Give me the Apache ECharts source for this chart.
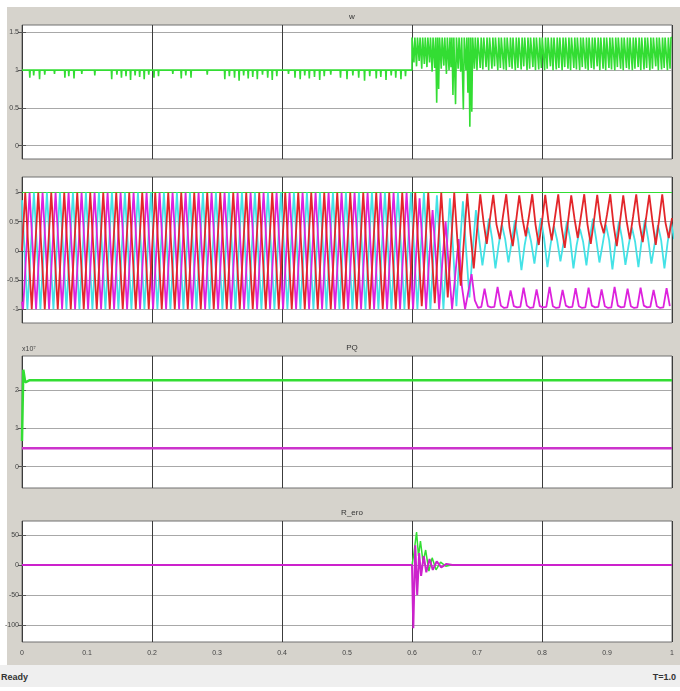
<!DOCTYPE html>
<html><head><meta charset="utf-8">
<script src="https://cdn.jsdelivr.net/npm/echarts@6/dist/echarts.min.js"></script>
<style>
html,body{margin:0;padding:0;background:#fff;}
#wrap{position:relative;width:680px;height:691px;overflow:hidden;background:#fff;}
#panel{position:absolute;left:7px;top:7px;width:673px;height:658px;background:#d6d3cc;}
#chart{position:absolute;left:0;top:0;width:680px;height:691px;}
#status{position:absolute;left:0;top:665px;width:680px;height:22px;background:#efefef;font:bold 9px "Liberation Sans",sans-serif;color:#333;}
</style></head>
<body><div id="wrap"><div id="panel"></div><div id="chart"></div>
<div id="status"><span style="position:absolute;left:1px;top:7px">Ready</span><span style="position:absolute;right:4px;top:7px">T=1.0</span></div>
</div>
<script>
// ---------- data ----------
const xMin = 0, xMax = 1;
const titles = ['w', '', 'PQ', 'R_ero'];
const wTicks = [0, 0.5, 1, 1.5];
const vTicks = [-1, -0.5, 0, 0.5, 1];
const pqTicks = [0, 1, 2];
const rTicks = [-100, -50, 0, 50];

// panel 1 : w
const wFaultTime = 0.6;
const wPreLevel = 1.0;
const wPostLevel = 1.43;
const preSpikeTimes = [0.012,0.018,0.027,0.035,0.05,0.066,0.072,0.08,0.092,0.112,
  0.138,0.146,0.153,0.16,0.167,0.174,0.181,0.188,0.195,0.203,
  0.21,0.232,0.245,0.252,0.26,0.285,0.312,0.319,0.327,0.334,
  0.341,0.348,0.355,0.362,0.37,0.378,0.385,0.392,0.41,0.42,
  0.428,0.435,0.442,0.45,0.458,0.465,0.475,0.49,0.5,0.509,
  0.518,0.527,0.535,0.545,0.552,0.56,0.568,0.575,0.583,0.59];
const preSpikeLows = [0.9,0.93,0.88,0.94,0.95,0.9,0.92,0.89,0.95,0.93,
  0.88,0.94,0.9,0.92,0.87,0.93,0.91,0.88,0.94,0.9,
  0.92,0.95,0.89,0.93,0.9,0.94,0.88,0.92,0.9,0.86,
  0.93,0.89,0.91,0.88,0.94,0.9,0.87,0.92,0.95,0.9,
  0.88,0.93,0.89,0.91,0.87,0.92,0.94,0.9,0.88,0.93,
  0.9,0.86,0.92,0.89,0.91,0.87,0.93,0.9,0.88,0.92];
const postSpikeTimes = [0.603,0.607,0.611,0.615,0.619,0.623,0.627,0.631,0.635,0.638,
  0.641,0.645,0.649,0.653,0.657,0.66,0.663,0.667,0.671,0.675,
  0.679,0.683,0.686,0.689,0.692,0.696,0.7,0.705,0.709,0.714,
  0.718,0.723,0.727,0.732,0.736,0.741,0.745,0.75,0.754,0.759,
  0.763,0.768,0.772,0.777,0.781,0.786,0.79,0.795,0.799,0.804,
  0.808,0.813,0.817,0.822,0.826,0.831,0.835,0.84,0.844,0.849,
  0.853,0.858,0.862,0.867,0.871,0.876,0.88,0.885,0.889,0.894,
  0.898,0.903,0.907,0.912,0.916,0.921,0.925,0.93,0.934,0.939,
  0.943,0.948,0.952,0.957,0.961,0.966,0.97,0.975,0.979,0.984,
  0.988,0.993,0.997];
const postSpikeLows = [1.1,1.05,1.12,1.02,1.08,1.04,1.1,0.98,1.03,0.57,
  0.75,1.02,1.06,0.95,1.0,1.04,0.67,0.55,1.02,0.98,
  0.48,1.0,0.7,0.25,0.45,1.02,1.0,1.03,1.01,1.04,
  1.0,1.02,1.05,1.0,1.03,1.01,1.0,1.04,1.02,1.0,
  1.03,1.01,1.05,1.0,1.02,1.04,1.0,1.01,1.03,1.0,
  1.02,1.05,1.0,1.01,1.03,1.0,1.04,1.02,1.0,1.03,
  1.01,1.0,1.04,1.02,1.0,1.03,1.01,1.05,1.0,1.02,
  1.0,1.03,1.01,1.0,1.04,1.02,1.0,1.03,1.01,1.0,
  1.02,1.04,1.0,1.01,1.03,1.0,1.02,1.05,1.0,1.01,
  1.03,1.0,1.02];

// panel 2 : three-phase signals
// before the fault: one extremum per half cycle; after: one sample per quarter cycle
const halfCycle = 0.01, quarterCycle = 0.005;
const redStart = 0.005, magentaStart = 0.0016667, cyanStart = 0.0083333;
const redPostStart = 0.605, magentaPostStart = 0.6016667, cyanPostStart = 0.6083333;
const redInit = 0, magentaInit = -0.87, cyanInit = 0.87;
const refTimes = [0, 1];
const refValues = [1, 1];
const redPre = [
  1,-1,1,-1,1,-1,1,-1,1,-1, 1,-1,1,-1,1,-1,1,-1,1,-1,
  1,-1,1,-1,1,-1,1,-1,1,-1, 1,-1,1,-1,1,-1,1,-1,1,-1,
  1,-1,1,-1,1,-1,1,-1,1,-1, 1,-1,1,-1,1,-1,1,-1,1,-1];
const magentaPre = [
  -1,1,-1,1,-1,1,-1,1,-1,1, -1,1,-1,1,-1,1,-1,1,-1,1,
  -1,1,-1,1,-1,1,-1,1,-1,1, -1,1,-1,1,-1,1,-1,1,-1,1,
  -1,1,-1,1,-1,1,-1,1,-1,1, -1,1,-1,1,-1,1,-1,1,-1,1];
const cyanPre = [
  -1,1,-1,1,-1,1,-1,1,-1,1, -1,1,-1,1,-1,1,-1,1,-1,1,
  -1,1,-1,1,-1,1,-1,1,-1,1, -1,1,-1,1,-1,1,-1,1,-1,1,
  -1,1,-1,1,-1,1,-1,1,-1,1, -1,1,-1,1,-1,1,-1,1,-1,1];
const redPost = [
  1,0,-0.95,0,1,0.05,-0.9,0.05,1,0.1,-0.8,0.1,1,0.15,-0.6,0.2,0.98,0.3,-0.3,0.35,
  0.97,0.5,0.12,0.55,0.96,0.45,0.2,0.6,0.97,0.4,0.08,0.5,0.95,0.55,0.25,0.6,0.97,0.45,0.1,0.5,
  0.96,0.5,0.18,0.58,0.97,0.42,0.05,0.5,0.95,0.55,0.22,0.6,0.97,0.45,0.12,0.52,0.96,0.5,0.3,0.62,
  0.97,0.45,0.08,0.5,0.95,0.52,0.2,0.58,0.97,0.46,0.15,0.55,0.96,0.5,0.1,0.52,0.97,0.48,0.22,0.56];
const magentaPost = [
  -1,0,0.9,0,-1,-0.1,0.7,-0.1,-1,-0.2,0.5,-0.3,-1,-0.4,0.2,-0.6,-1,-0.7,-0.4,-0.85,
  -0.98,-0.96,-0.65,-0.95,-0.97,-0.96,-0.62,-0.94,-0.98,-0.97,-0.68,-0.95,-0.97,-0.96,-0.63,-0.94,-0.98,-0.97,-0.66,-0.95,
  -0.97,-0.96,-0.62,-0.95,-0.98,-0.97,-0.67,-0.94,-0.97,-0.96,-0.64,-0.95,-0.98,-0.97,-0.63,-0.94,-0.97,-0.96,-0.66,-0.95,
  -0.98,-0.97,-0.62,-0.94,-0.97,-0.96,-0.65,-0.95,-0.98,-0.97,-0.63,-0.94,-0.97,-0.96,-0.67,-0.95,-0.98,-0.97,-0.64,-0.95];
const cyanPost = [
  -1,0,1,0,-1,0,0.95,0,-1,0,0.9,0,-0.95,0,0.85,0,-0.8,0,0.7,0.2,
  -0.25,0.15,0.55,0.2,-0.3,0.1,0.45,0.2,-0.2,0.15,0.52,0.18,-0.33,0.1,0.4,0.15,-0.22,0.2,0.56,0.2,
  -0.28,0.12,0.42,0.18,-0.18,0.15,0.5,0.2,-0.3,0.1,0.38,0.15,-0.25,0.2,0.55,0.2,-0.2,0.12,0.45,0.18,
  -0.32,0.15,0.5,0.2,-0.24,0.1,0.4,0.15,-0.28,0.18,0.53,0.2,-0.22,0.12,0.44,0.18,-0.3,0.15,0.5,0.2];

// panel 3 : PQ (x10^7)
const pTimes = [0, 0.002, 0.005, 0.012, 1];
const pValues = [0.67, 2.53, 2.2, 2.26, 2.26];
const qTimes = [0, 1];
const qValues = [0.48, 0.48];

// panel 4 : R_ero
const rGreenTimes = [0,0.6,0.603,0.607,0.61,0.613,0.617,0.621,0.626,0.631,0.637,0.644,0.652,0.66,1];
const rGreenValues = [0,0,20,55,15,40,5,25,-10,12,-8,5,-2,0,0];
const rMagTimes = [0,0.6,0.602,0.605,0.608,0.611,0.614,0.618,0.622,0.627,0.632,0.638,0.645,0.653,0.662,1];
const rMagValues = [0,0,-105,33,-50,20,-18,15,-12,10,-8,6,-4,2,0,0];

// ---------- build ----------
const zip = (ts, vs) => ts.map((t, i) => [t, vs[i]]);
function buildW() {
  const d = [[xMin, wPreLevel]];
  preSpikeTimes.forEach((t, i) => d.push([t - 0.0006, wPreLevel], [t, preSpikeLows[i]], [t + 0.0006, wPreLevel]));
  d.push([wFaultTime, wPreLevel], [wFaultTime, wPostLevel]);
  postSpikeTimes.forEach((t, i) => d.push([t - 0.0014, wPostLevel], [t, postSpikeLows[i]], [t + 0.0014, wPostLevel]));
  d.push([xMax, wPostLevel]);
  return d;
}
function buildPhase(start, init, pre, postStart, post) {
  const d = [[xMin, init]];
  pre.forEach((v, k) => d.push([start + k * halfCycle, v]));
  post.forEach((v, k) => d.push([postStart + k * quarterCycle, v]));
  return d;
}

const GREEN = '#33dd33', RED = '#e3262a', MAG = '#dd22dd', CYAN = '#44e2e6';
const FONT = 'Liberation Sans';
const gridDefs = [
  { top: 25, height: 134, min: -0.176, max: 1.597, ticks: wTicks },
  { top: 177, height: 146, min: -1.238, max: 1.266, ticks: vTicks },
  { top: 356, height: 132, min: -0.556, max: 2.89, ticks: pqTicks },
  { top: 521, height: 121, min: -128, max: 73.3, ticks: rTicks }
];
const grid = [], xAxis = [], yAxis = [], title = [];
gridDefs.forEach((g, i) => {
  grid.push({ left: 22, right: 8, top: g.top, height: g.height, show: true, backgroundColor: '#fff', borderColor: '#707070', borderWidth: 1 });
  xAxis.push({ type: 'value', gridIndex: i, min: xMin, max: xMax, interval: 0.1,
    axisLine: { show: false }, axisTick: { show: false }, splitLine: { show: false },
    axisLabel: { show: i === 3, fontSize: 7, fontFamily: FONT, color: '#444', margin: 8 } });
  xAxis.push({ type: 'value', gridIndex: i, position: 'top', min: xMin, max: xMax, interval: 0.2,
    axisLine: { show: false }, axisTick: { show: false }, axisLabel: { show: false },
    splitLine: { show: true, lineStyle: { color: '#3c3c3c', width: 1 } } });
  yAxis.push({ type: 'value', gridIndex: i, min: g.min, max: g.max,
    name: i === 2 ? 'x10⁷' : '', nameLocation: 'end', nameGap: 3,
    nameTextStyle: { fontSize: 7, fontFamily: FONT, color: '#444', align: 'left' },
    axisLine: { show: false },
    axisTick: { show: true, inside: true, length: 4, customValues: g.ticks, lineStyle: { color: '#555' } },
    axisLabel: { customValues: g.ticks, fontSize: 7, fontFamily: FONT, color: '#444', margin: 3 },
    splitLine: { show: true, lineStyle: { color: '#a8a8a8', width: 1 } } });
  yAxis.push({ type: 'value', gridIndex: i, position: 'right', min: g.min, max: g.max,
    axisLine: { show: false }, axisLabel: { show: false }, splitLine: { show: false },
    axisTick: { show: true, inside: true, length: 4, customValues: g.ticks, lineStyle: { color: '#555' } } });
  if (titles[i]) title.push({ text: titles[i], left: 347, top: g.top - 17, textAlign: 'center',
    textStyle: { fontSize: 8, fontWeight: 'normal', fontFamily: FONT, color: '#333' } });
});

function line(gi, data, color, width, z) {
  return { type: 'line', xAxisIndex: gi * 2, yAxisIndex: gi * 2, data, showSymbol: false, symbol: 'none',
    lineStyle: { color, width }, itemStyle: { color }, z: z || 2, silent: true, animation: false };
}

const series = [
  line(0, buildW(), GREEN, 1.6),
  line(1, zip(refTimes, refValues), GREEN, 1),
  line(1, buildPhase(cyanStart, cyanInit, cyanPre, cyanPostStart, cyanPost), CYAN, 1.8, 3),
  line(1, buildPhase(magentaStart, magentaInit, magentaPre, magentaPostStart, magentaPost), MAG, 1.8, 4),
  line(1, buildPhase(redStart, redInit, redPre, redPostStart, redPost), RED, 1.8, 5),
  line(2, zip(pTimes, pValues), GREEN, 2.5),
  line(2, zip(qTimes, qValues), '#cc33cc', 2.5),
  line(3, zip(rGreenTimes, rGreenValues), GREEN, 1.5, 2),
  line(3, zip(rMagTimes, rMagValues), '#cc22cc', 2, 3)
];

const chart = echarts.init(document.getElementById('chart'), null, { renderer: 'canvas' });
chart.setOption({ backgroundColor: 'transparent', animation: false, title, grid, xAxis, yAxis, series });
</script>
</body></html>
